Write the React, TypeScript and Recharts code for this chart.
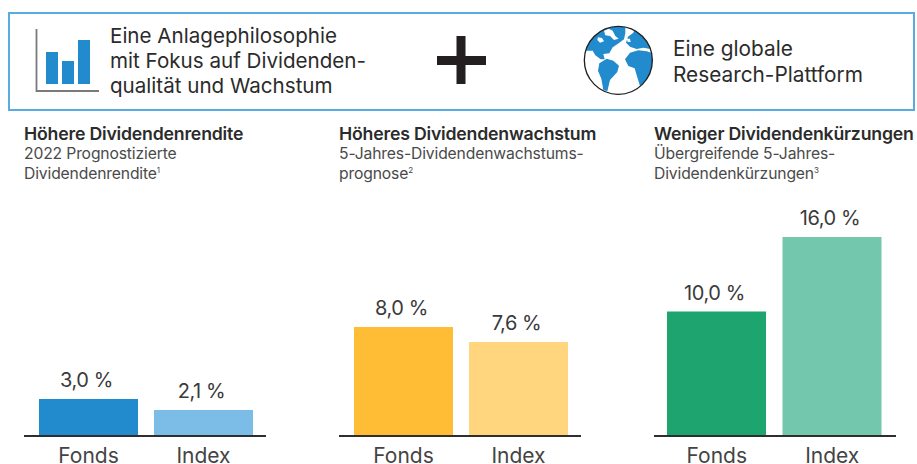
import { Bar, BarChart, Cell, LabelList, XAxis, YAxis } from "recharts"

const categories = ["Fonds", "Index"]

const renditeValues = [3.0, 2.1]
const wachstumValues = [8.0, 7.6]
const kuerzungValues = [10.0, 16.0]
const iconValues = [32, 23, 44]

const FONT = "Inter, sans-serif"
const INK = "#2b2b2b"

const toRows = (values: number[]) =>
  categories.map((name, i) => ({ name, value: values[i] }))

const formatPercent = (v: number) => `${v.toFixed(1).replace(".", ",")} %`

type PanelProps = {
  left: number
  title: string
  lines: [string, string]
  note: string
  values: number[]
  colors: string[]
  domain: [number, number]
  padding: { left: number; right: number }
}

function Panel({ left, title, lines, note, values, colors, domain, padding }: PanelProps) {
  return (
    <>
      <div style={{ position: "absolute", left, top: 124, whiteSpace: "nowrap", color: INK, fontFamily: FONT }}>
        <div style={{ fontSize: 17.7, fontWeight: 600, lineHeight: "20px", letterSpacing: -0.2 }}>{title}</div>
        <div style={{ fontSize: 15.7, lineHeight: "19.5px", color: "#4a4a4a", letterSpacing: -0.15 }}>
          {lines[0]}
          <br />
          {lines[1]}
          <sup style={{ fontSize: 8, lineHeight: 0 }}>{note}</sup>
        </div>
      </div>
      <div style={{ position: "absolute", left, top: 195 }}>
        <BarChart
          width={242}
          height={280}
          data={toRows(values)}
          margin={{ top: 5, right: 0, bottom: 10, left: 0 }}
          barSize={99}
        >
          <YAxis hide domain={domain} />
          <XAxis
            dataKey="name"
            height={29}
            padding={padding}
            tickLine={false}
            axisLine={{ stroke: "#2e2e2e", strokeWidth: 2 }}
            tick={{ fontSize: 21, fontFamily: FONT, fill: "#444" }}
            tickMargin={6}
            interval={0}
          />
          <Bar dataKey="value" isAnimationActive={false}>
            {colors.map((c) => (
              <Cell key={c} fill={c} />
            ))}
            <LabelList
              dataKey="value"
              position="top"
              offset={12}
              dx={-2}
              formatter={formatPercent}
              style={{ fontSize: 20, fontFamily: FONT, fill: "#3a3a3a", letterSpacing: -0.4 }}
            />
          </Bar>
        </BarChart>
      </div>
    </>
  )
}

function BarsIcon() {
  return (
    <>
      <svg width={80} height={70} style={{ position: "absolute", left: 30, top: 25 }}>
        <path d="M6.5 4 V66 H69" fill="none" stroke="#7a7a7a" strokeWidth={1.8} />
      </svg>
      <div style={{ position: "absolute", left: 44, top: 40 }}>
        <BarChart
          width={48}
          height={44}
          data={iconValues.map((value, i) => ({ i, value }))}
          margin={{ top: 0, right: 0, bottom: 0, left: 0 }}
          barSize={12}
        >
          <XAxis dataKey="i" hide padding={{ left: 0, right: 0 }} />
          <YAxis hide domain={[0, 44]} />
          <Bar dataKey="value" fill="#218bce" isAnimationActive={false} />
        </BarChart>
      </div>
    </>
  )
}

function Globe() {
  return (
    <svg width={76} height={76} viewBox="360 66 228 228" style={{ position: "absolute", left: 580, top: 22 }}>
      <defs>
        <clipPath id="globe">
          <circle cx={475} cy={181} r={102} />
        </clipPath>
      </defs>
      <g clipPath="url(#globe)" fill="#218bce">
        <path d="M370 152 L398 152 L406 166 L422 178 L434 178 L430 162 L448 160 L458 142 L476 130 L492 118 L496 100 L496 70 L400 70 L370 120 Z" />
        <path d="M418 190 L440 176 L460 182 L477 197 L472 216 L450 240 L442 274 L430 270 L424 236 L414 212 Z" />
        <path d="M495 178 L510 158 L535 151 L560 154 L578 160 L588 195 L567 237 L540 258 L530 226 L524 205 L505 198 Z" />
        <path d="M498 128 L504 110 L520 98 L525 85 L560 100 L590 130 L590 165 L575 148 L550 143 L530 147 L510 140 Z" />
      </g>
      <g fill="#fff" clipPath="url(#globe)">
        <path d="M432 92 L446 86 L458 92 L466 108 L476 116 L462 120 L450 108 L436 106 Z" />
        <path d="M414 112 L426 114 L432 124 L420 128 L412 120 Z" />
        <path d="M500 116 L510 116 L512 126 L503 126 Z" />
      </g>
      <circle cx={475} cy={181} r={102} fill="none" stroke="#1f1f1f" strokeWidth={4} />
    </svg>
  )
}

export default function App() {
  return (
    <div style={{ position: "absolute", left: 0, top: 0, width: 917, height: 464, background: "#fff", overflow: "hidden" }}>
      <div
        style={{
          position: "absolute",
          left: 8,
          top: 12,
          width: 903,
          height: 95,
          border: "2px solid #5aabdf",
        }}
      />
      <BarsIcon />
      <div style={{ position: "absolute", left: 110, top: 23, fontFamily: FONT, fontSize: 20.6, lineHeight: "25.2px", color: INK, whiteSpace: "nowrap" }}>
        Eine Anlagephilosophie
        <br />
        mit Fokus auf Dividenden-
        <br />
        qualität und Wachstum
      </div>
      <svg width={60} height={60} style={{ position: "absolute", left: 432, top: 30 }}>
        <path d="M24.5 6 H33.5 V26 H54 V35 H33.5 V54 H24.5 V35 H5 V26 H24.5 Z" fill="#231f20" />
      </svg>
      <Globe />
      <div style={{ position: "absolute", left: 673, top: 36, fontFamily: FONT, fontSize: 20.8, lineHeight: "25.5px", color: INK, whiteSpace: "nowrap" }}>
        Eine globale
        <br />
        Research-Plattform
      </div>

      <Panel
        left={24}
        title="Höhere Dividendenrendite"
        lines={["2022 Prognostizierte", "Dividendenrendite"]}
        note="1"
        values={renditeValues}
        colors={["#218bce", "#7cbde8"]}
        domain={[0, 19.1]}
        padding={{ left: 7, right: 5 }}
      />
      <Panel
        left={339}
        title="Höheres Dividendenwachstum"
        lines={["5-Jahres-Dividendenwachstums-", "prognose"]}
        note="2"
        values={wachstumValues}
        colors={["#ffbc35", "#ffd57e"]}
        domain={[5.09, 11.39]}
        padding={{ left: 7, right: 5 }}
      />
      <Panel
        left={654}
        title="Weniger Dividendenkürzungen"
        lines={["Übergreifende 5-Jahres-", "Dividendenkürzungen"]}
        note="3"
        values={kuerzungValues}
        colors={["#1ea56f", "#72c7ac"]}
        domain={[0, 18.97]}
        padding={{ left: 5, right: 6 }}
      />
    </div>
  )
}
